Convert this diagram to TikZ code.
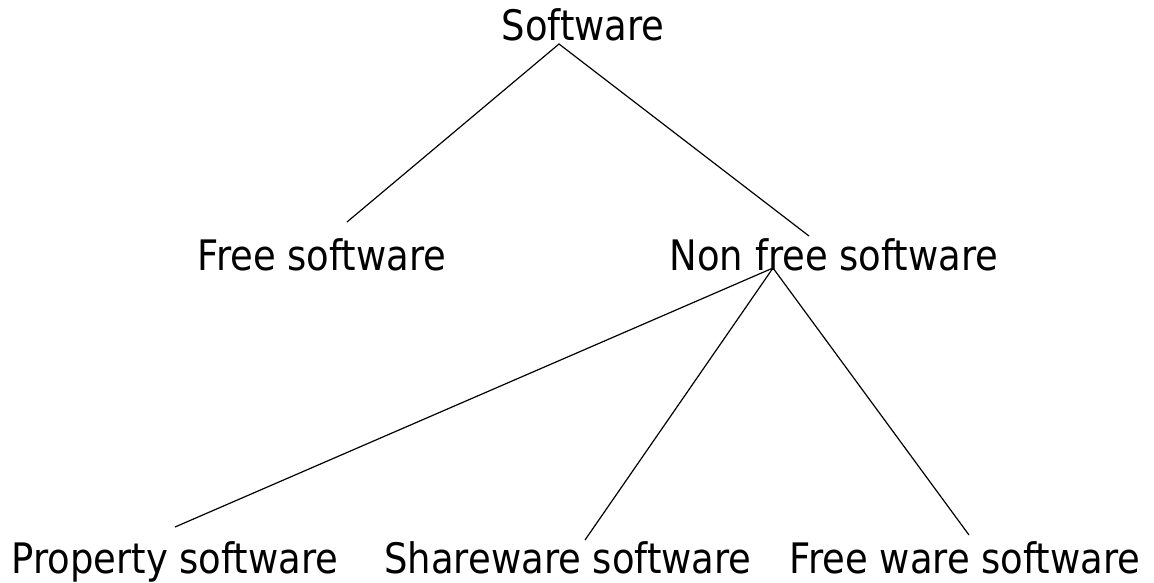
\documentclass[tikz,border=0pt]{standalone}
\usepackage{fontspec}
\setmainfont{DejaVu Sans}[FakeStretch=0.88]
\begin{document}
\begin{tikzpicture}[x=1pt,y=-1pt,
  lbl/.style={anchor=base,inner sep=0pt,font=\fontsize{42}{50}\selectfont},
  edge/.style={line width=1.2pt,black}]
\useasboundingbox (0,0) rectangle (1154,582);
\node[lbl] (sw) at (583,40) {Software};
\node[lbl] (free) at (322,270) {Free software};
\node[lbl] (nonfree) at (834,270) {Non free software};
\node[lbl] (prop) at (175,573) {Property software};
\node[lbl] (share) at (568,573) {Shareware software};
\node[lbl] (fw) at (965,573) {Free ware software};
\coordinate (swout) at (559,44);
\coordinate (freein) at (347,222);
\coordinate (nonfreein) at (809,236);
\coordinate (nfout) at (773,268);
\coordinate (propin) at (175,527);
\coordinate (sharein) at (585,540);
\coordinate (fwin) at (969,535);
\draw[edge] (freein) -- (swout) -- (nonfreein);
\draw[edge] (propin) -- (nfout) -- (sharein);
\draw[edge] (nfout) -- (fwin);
\end{tikzpicture}
\end{document}
